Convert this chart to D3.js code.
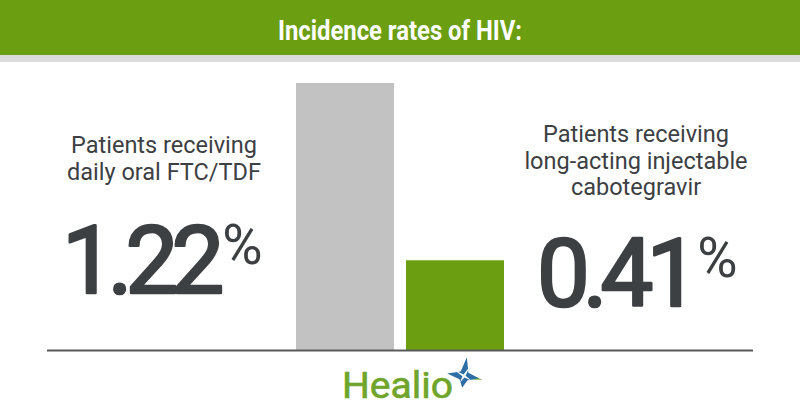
<!DOCTYPE html>
<html>
<head>
<meta charset="utf-8">
<script src="https://cdn.jsdelivr.net/npm/d3@7"></script>
<style>
  html, body { margin: 0; padding: 0; background: #fff; }
  svg { display: block; }
</style>
</head>
<body>
<svg id="chart" width="800" height="420"></svg>
<script>
// ---- data ----
const title = "Incidence rates of HIV:";
const categories = ["FTC/TDF", "Cabotegravir"];
const values = [1.22, 0.41];
const valueLabels = ["1.22", "0.41"];
const groupLabels = [
  ["Patients receiving", "daily oral FTC/TDF"],
  ["Patients receiving", "long-acting injectable", "cabotegravir"]
];
const barColors = ["#c2c2c2", "#6b9e10"];
const brand = "Healio";

// ---- layout ----
const W = 800, H = 420;
const svg = d3.select("#chart");
const textColor = "#3d4043";
const green = "#6b9e10";

// header
svg.append("rect").attr("x", 0).attr("y", 0).attr("width", W).attr("height", 55).attr("fill", green);
svg.append("rect").attr("x", 0).attr("y", 55).attr("width", W).attr("height", 7).attr("fill", "#dcdcdc");
svg.append("text")
  .attr("x", 400).attr("y", 40)
  .attr("text-anchor", "middle")
  .attr("font-family", "Roboto, sans-serif")
  .attr("font-weight", 700)
  .attr("font-size", 27)
  .attr("fill", "#fff")
  .attr("textLength", 244)
  .attr("lengthAdjust", "spacingAndGlyphs")
  .text(title);

// scales
const x = d3.scaleBand().domain(categories).range([296, 504]).paddingInner(0.109).paddingOuter(0);
const y = d3.scaleLinear().domain([0, 1.22]).range([350, 83]);

// bars
svg.selectAll("rect.bar").data(values).join("rect")
  .attr("class", "bar")
  .attr("x", (d, i) => x(categories[i]))
  .attr("width", x.bandwidth())
  .attr("y", d => y(d))
  .attr("height", d => y(0) - y(d))
  .attr("fill", (d, i) => barColors[i]);

// baseline
svg.append("line")
  .attr("x1", 47).attr("x2", 753)
  .attr("y1", y(0) + 0.5).attr("y2", y(0) + 0.5)
  .attr("stroke", "#5a5a5a").attr("stroke-width", 2);

// group labels
const labelCenters = [164, 636];
const labelFirstBaselines = [153, 142];
groupLabels.forEach((lines, i) => {
  const t = svg.append("text")
    .attr("text-anchor", "middle")
    .attr("font-family", "Roboto, sans-serif")
    .attr("font-size", 23.5)
    .attr("fill", textColor);
  lines.forEach((ln, j) => {
    t.append("tspan").attr("x", labelCenters[i]).attr("y", labelFirstBaselines[i] + j * 26.7).text(ln);
  });
});

// big values
const numX = [62, 537];
const numBase = [293, 306];
valueLabels.forEach((v, i) => {
  const t = svg.append("text")
    .attr("x", numX[i]).attr("y", numBase[i])
    .attr("font-family", "Roboto, sans-serif")
    .attr("fill", textColor);
  t.append("tspan")
    .attr("font-weight", 400)
    .attr("font-size", 94)
    .attr("letter-spacing", -7)
    .attr("stroke", textColor)
    .attr("stroke-width", 2.6)
    .attr("stroke-linejoin", "round")
    .text(v);
  t.append("tspan")
    .attr("font-weight", 400)
    .attr("font-size", 55)
    .attr("letter-spacing", 0)
    .attr("stroke", "none")
    .attr("dx", 5)
    .attr("dy", -29)
    .text("%");
});

// Healio logo
svg.append("text")
  .attr("x", 342).attr("y", 398)
  .attr("font-family", "Roboto, sans-serif")
  .attr("font-weight", 400)
  .attr("font-size", 36)
  .attr("fill", "#6fa52a")
  .attr("stroke", "#6fa52a")
  .attr("stroke-width", 0.6)
  .attr("textLength", 111)
  .attr("lengthAdjust", "spacingAndGlyphs")
  .text(brand);

// star mark
const sg = svg.append("g").attr("transform", "translate(464,376)");
const star = (radii, rot) => {
  const pts = radii.map((r, k) => {
    const a = rot + k * Math.PI / 4;
    return [r * Math.cos(a), r * Math.sin(a)];
  });
  return d3.line()(pts) + "Z";
};
// green lower-right arms
sg.append("path").attr("d", star([4, 4, 19, 4, 4, 4, 4, 4], -Math.PI / 2 + 0.2)).attr("fill", "#6fa52a");
// blue star
sg.append("path").attr("d", star([19, 5.5, 15, 5.5, 12, 5.5, 17, 5.5], -Math.PI / 2 + 0.15)).attr("fill", "#2d6ea6");
// white inner rays
sg.append("path").attr("d", star([12, 1.6, 9, 1.6, 8, 1.6, 11, 1.6], -Math.PI / 2 + 0.55)).attr("fill", "#fff");
</script>
</body>
</html>
